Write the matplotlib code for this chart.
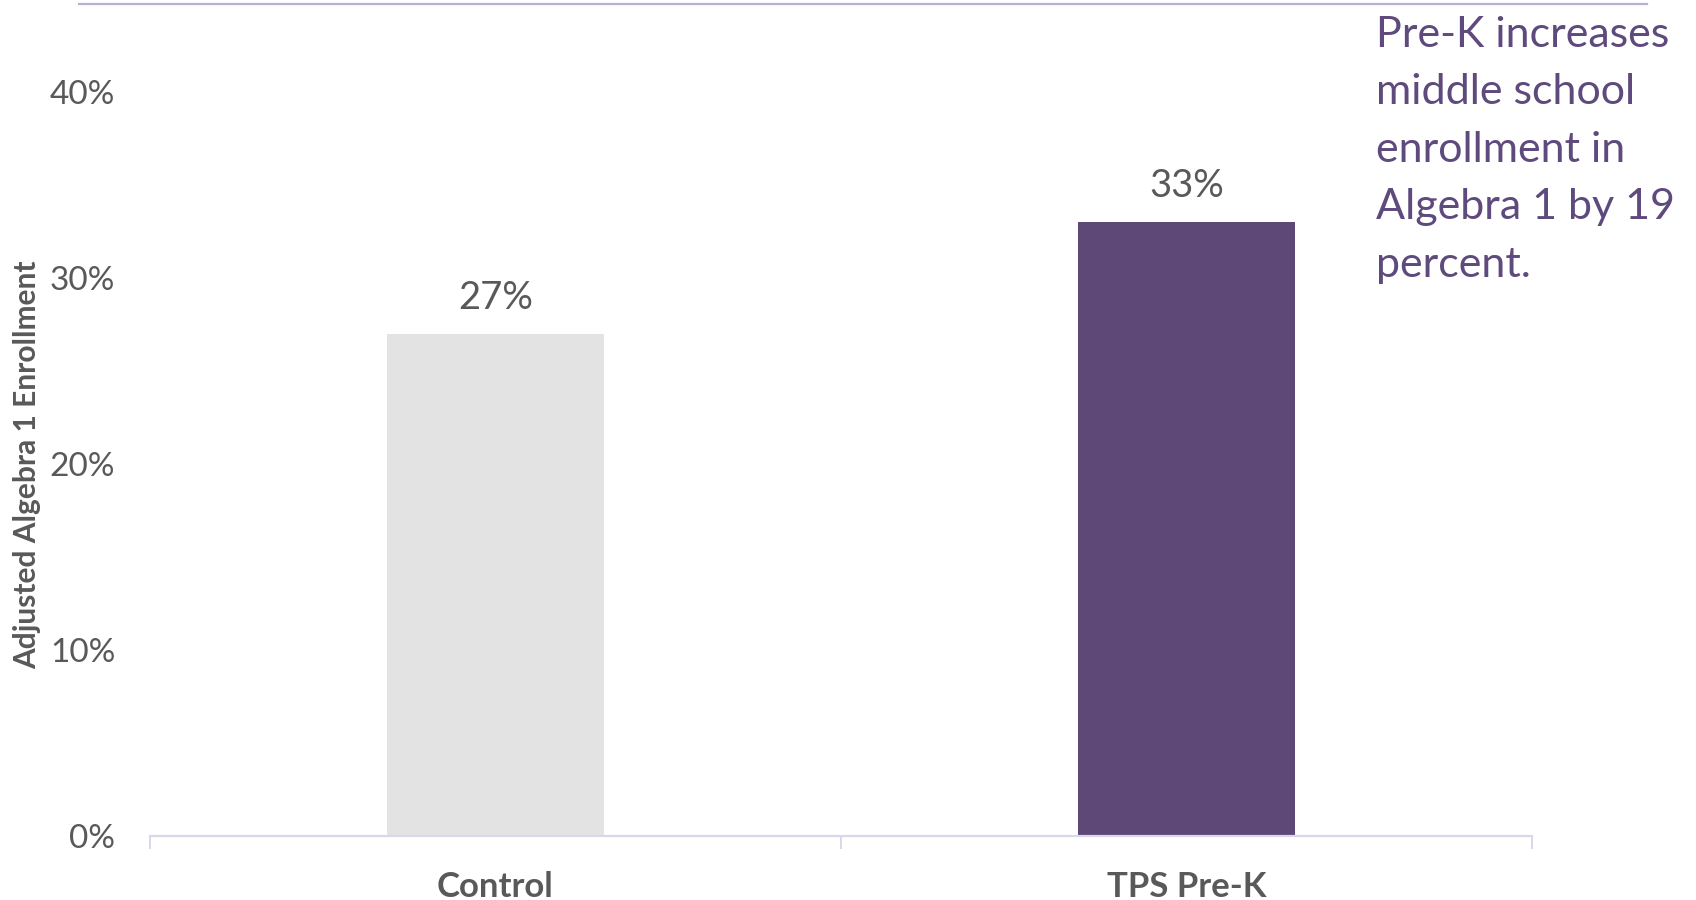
import matplotlib
matplotlib.use("Agg")
import matplotlib.pyplot as plt
from matplotlib.lines import Line2D
from matplotlib.ticker import FixedLocator, PercentFormatter

# Data
categories = ["Control", "TPS Pre-K"]
enrollment = [0.27, 0.33]
value_labels = ["27%", "33%"]
y_ticks = [0.0, 0.1, 0.2, 0.3, 0.4]
note_lines = ["Pre-K increases", "middle school", "enrollment in",
              "Algebra 1 by 19", "percent."]

# Style
FONT = "Lato"
GREY = "#595959"
PURPLE = "#5E4878"
LIGHT = "#E3E3E3"
AXIS = "#DCD6EA"
RULE = "#B9AED3"
bar_colors = [LIGHT, PURPLE]

W, H = 1696, 900
fig = plt.figure(figsize=(W / 100, H / 100), dpi=100)
ax = fig.add_axes([150 / W, 1 - 836 / H, (1532 - 150) / W, (836 - 92) / H])

x = list(range(len(categories)))
ax.bar(x, enrollment, width=0.314, color=bar_colors, zorder=2)

ax.set_xlim(-0.5, len(categories) - 0.5)
ax.set_ylim(0, 0.40)

for xi, v, lab in zip(x, enrollment, value_labels):
    ax.annotate(lab, (xi, v), xytext=(0, 18), textcoords="offset points",
                ha="center", va="baseline", fontsize=27.5, color=GREY,
                family=FONT, annotation_clip=False)

# Axes decorations
for side in ["top", "right", "left"]:
    ax.spines[side].set_visible(False)
ax.spines["bottom"].set_color(AXIS)
ax.spines["bottom"].set_linewidth(1.6)

ax.yaxis.set_major_locator(FixedLocator(y_ticks))
ax.yaxis.set_major_formatter(PercentFormatter(1.0, decimals=0))
ax.tick_params(axis="y", length=0, pad=25, labelsize=24, labelcolor=GREY)
for t in ax.get_yticklabels():
    t.set_family(FONT)

ax.set_xticks(x)
ax.set_xticklabels(categories, fontsize=25, fontweight="bold", color=GREY,
                   family=FONT)
ax.tick_params(axis="x", which="major", length=0, pad=25)
ax.set_xticks([i - 0.5 for i in range(len(categories) + 1)], minor=True)
ax.tick_params(axis="x", which="minor", length=9, width=1.4, color=AXIS)

fig.text(27 / W, 1 - 465 / H, "Adjusted Algebra 1 Enrollment", rotation=90,
         ha="center", va="center", fontsize=21.5, fontweight="bold",
         color=GREY, family=FONT)

# Headline note
fig.text(1376 / W, 1 - 16 / H, "\n".join(note_lines), ha="left", va="top",
         fontsize=31, color="#5E4A7C", family=FONT, linespacing=1.625)

# Thin rule across the top
fig.add_artist(Line2D([79 / W, 1647 / W], [1 - 4 / H, 1 - 4 / H],
                      color=RULE, linewidth=1.6))

fig.savefig("out.png", dpi=100)
